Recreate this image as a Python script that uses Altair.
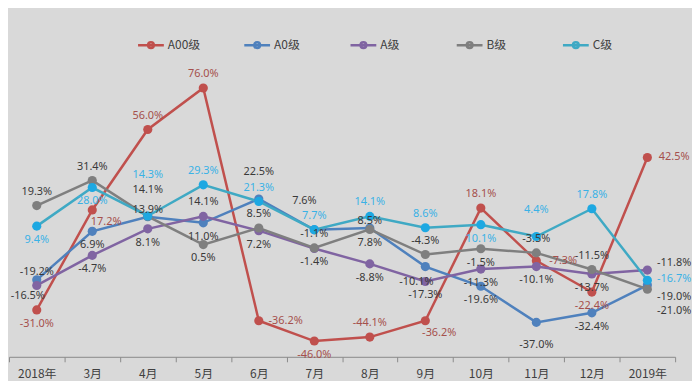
import altair as alt
import pandas as pd

months = ["2018年", "3月", "4月", "5月", "6月", "7月", "8月", "9月", "10月", "11月", "12月", "2019年"]
series = ["A00级", "A0级", "A级", "B级", "C级"]

a00 = [-31.0, 17.2, 56.0, 76.0, -36.2, -46.0, -44.1, -36.2, 18.1, -7.3, -22.4, 42.5]
a0 = [-16.5, 6.9, 13.9, 11.0, 22.5, 7.6, 8.5, -10.1, -19.6, -37.0, -32.4, -19.0]
a = [-19.2, -4.7, 8.1, 14.1, 7.2, -1.4, -8.8, -17.3, -11.3, -10.1, -13.7, -11.8]
b = [19.3, 31.4, 14.1, 0.5, 8.5, -1.1, 7.8, -4.3, -1.5, -3.5, -11.5, -21.0]
c = [9.4, 28.0, 14.3, 29.3, 21.3, 7.7, 14.1, 8.6, 10.1, 4.4, 17.8, -16.7]
values = [a00, a0, a, b, c]

# label placement codes (style, not data)
place = [
    ["b", "br", "a", "a", "r", "b", "a", "br", "a", "r", "b", "r"],
    ["bl", "b", "a2", "b", "A", "Al", "a2", "bl", "b", "B", "b", "r4"],
    ["a", "b", "b", "a", "b", "b", "b", "b", "b", "b", "b", "rU"],
    ["a", "a", "A", "b", "a", "a", "b", "a", "b", "a", "a", "rb"],
    ["b", "b", "AA", "a", "a", "a", "a", "a", "b", "A", "a", "rm"],
]
offsets = {
    "a": (0, -14), "a2": (0, -7), "A": (0, -27), "AA": (0, -41), "b": (0, 14), "B": (0, 23),
    "r": (27, 0), "rU": (27, -7), "rm": (27, -1), "r4": (27, 12), "rb": (27, 22), "br": (14, 12),
    "bl": (-9, 16), "Al": (-10, -29),
}

line_colors = ["#C0504D", "#4F81BD", "#8064A2", "#7F7F7F", "#3FA9C4"]
point_colors = ["#C0504D", "#4F81BD", "#8064A2", "#7F7F7F", "#1DA8E2"]
label_colors = {"A00级": "#A5504C", "C级": "#3AB2E6"}

rows = []
for s, vals, pl in zip(series, values, place):
    for m, v, p in zip(months, vals, pl):
        rows.append({"series": s, "month": m, "value": v, "pos": p,
                     "label": f"{v:.1f}%",
                     "lc": label_colors.get(s, "#3A3A3A")})
df = pd.DataFrame(rows)

font = "Noto Sans CJK SC"
x = alt.X("month:N", sort=months, title=None,
          scale=alt.Scale(paddingInner=0, paddingOuter=0),
          axis=alt.Axis(tickBand="extent", labelAngle=0, labelFontSize=12, labelColor="#404040",
                        labelFont=font, domainColor="#8A8A8A", tickColor="#8A8A8A",
                        tickSize=5, labelPadding=7, grid=False, domainWidth=1))
y = alt.Y("value:Q", title=None, axis=None,
          scale=alt.Scale(domain=[-53.6, 113.9], nice=False, zero=False))

base = alt.Chart(df)

lines = base.mark_line(strokeWidth=2.5).encode(
    x=x, y=y,
    color=alt.Color("series:N", sort=series,
                    scale=alt.Scale(domain=series, range=line_colors),
                    legend=alt.Legend(
                        orient="none", legendX=133, legendY=26, direction="horizontal",
                        columns=5, gridAlign="all", title=None,
                        symbolType="M-1.5,0H1.5M-0.33,0A0.33,0.33,0,1,1,0.33,0A0.33,0.33,0,1,1,-0.33,0Z",
                        symbolSize=300, symbolStrokeWidth=2.5, labelFontSize=12,
                        labelFont=font, labelColor="#404040", columnPadding=39,
                        labelOffset=7)),
    detail="series:N",
)

points = base.mark_circle(size=85, opacity=1).encode(
    x=x, y=y,
    color=alt.Color("series:N", sort=series,
                    scale=alt.Scale(domain=series, range=point_colors), legend=None),
)

label_layers = []
for code, (dx, dy) in offsets.items():
    label_layers.append(
        base.transform_filter(alt.datum.pos == code).mark_text(
            dx=dx, dy=dy, fontSize=11, font="Noto Sans", align="center", baseline="middle"
        ).encode(x=x, y=y, text="label:N", color=alt.Color("lc:N", scale=None))
    )

chart = alt.layer(lines, points, *label_layers).resolve_scale(color="independent").properties(
    width=671, height=350, padding=0, background="#D9D9D9"
).configure_view(stroke=None)

chart.save("out.html", embed_options={"renderer": "svg", "actions": False})
